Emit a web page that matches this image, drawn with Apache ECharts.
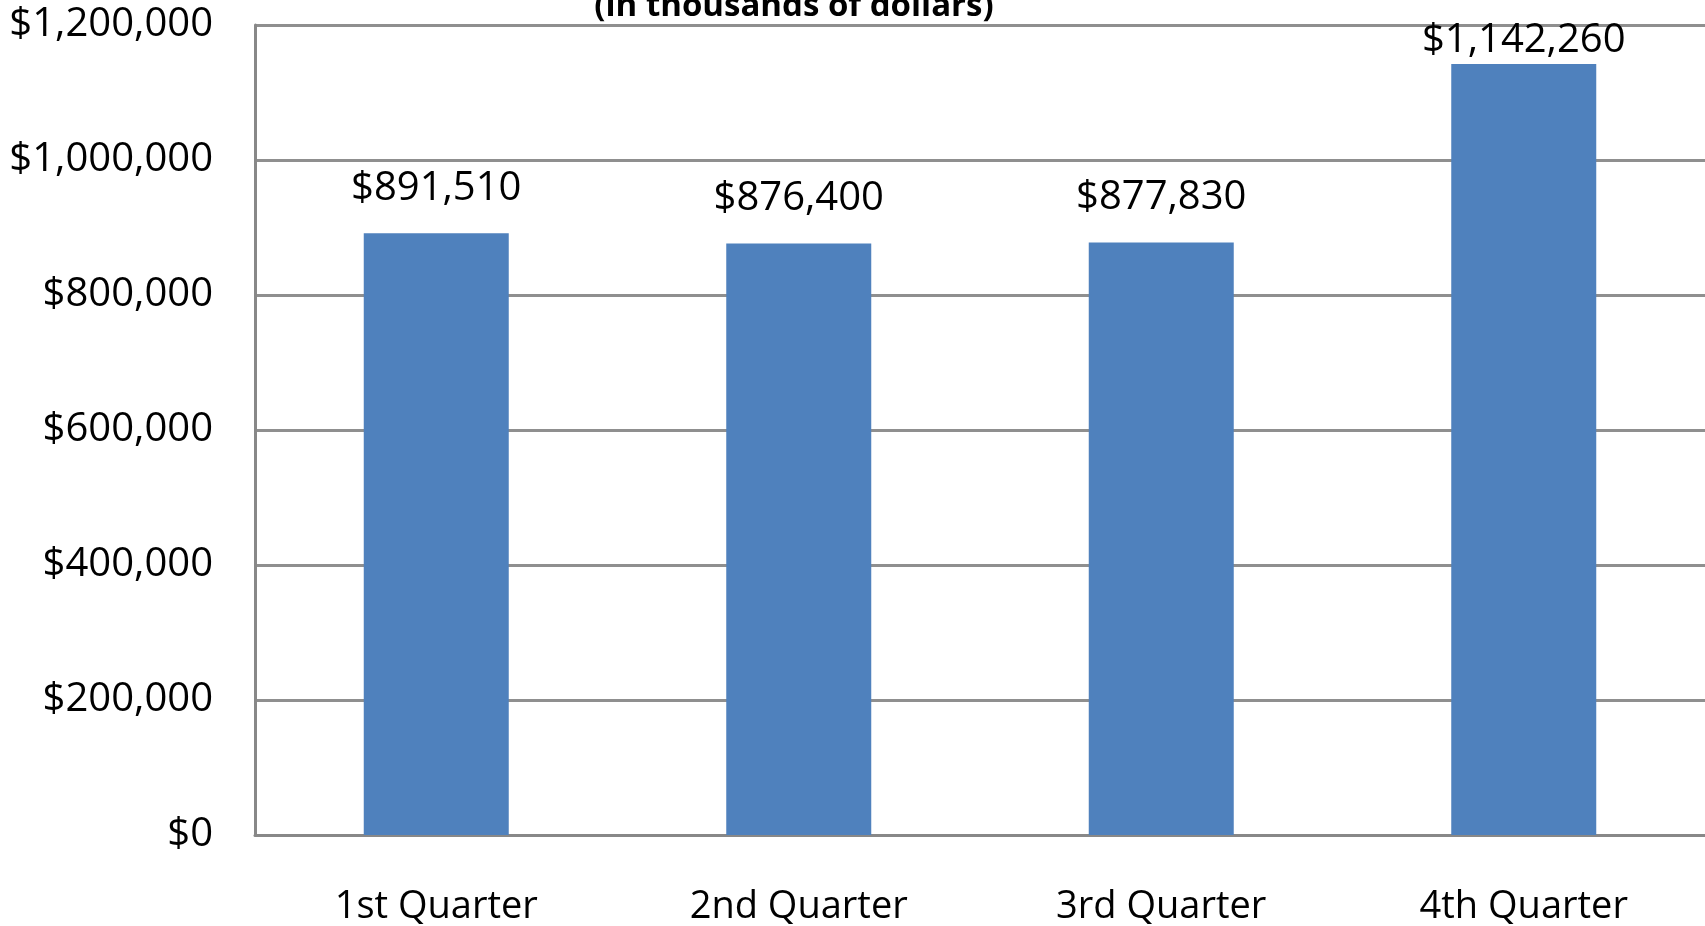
<!DOCTYPE html>
<html>
<head>
<meta charset="utf-8">
<script src="https://cdn.jsdelivr.net/npm/echarts@6/dist/echarts.min.js"></script>
<style>
html,body{margin:0;padding:0;background:#fff;}
#chart{width:1705px;height:926px;}
</style>
</head>
<body>
<div id="chart"></div>
<script>
const titleText = '(in thousands of dollars)';
const categories = ['1st Quarter', '2nd Quarter', '3rd Quarter', '4th Quarter'];
const salesValues = [891510, 876400, 877830, 1142260];
const yMin = 0, yMax = 1200000, yInterval = 200000;

function money(v) {
  return '$' + Number(v).toLocaleString('en-US');
}

const FONT = '"Open Sans", "Noto Sans", sans-serif';
// labels near the top edge sit closer to their bar (kept inside the plot)
const barData = salesValues.map(v => ({
  value: v,
  label: {distance: v > yMax * 0.9 ? 3 : 25}
}));

const chart = echarts.init(document.getElementById('chart'), null, {renderer: 'canvas'});
chart.setOption({
  animation: false,
  backgroundColor: '#ffffff',
  title: {
    text: titleText,
    left: 794,
    textAlign: 'center',
    top: -10,
    padding: 0,
    textStyle: {fontFamily: FONT, fontSize: 33, fontWeight: 'bold', color: '#000'}
  },
  grid: {left: 255, right: 0, top: 25, bottom: 91, containLabel: false},
  xAxis: {
    type: 'category',
    data: categories,
    axisLine: {show: true, lineStyle: {color: '#888888', width: 3}},
    axisTick: {show: false},
    axisLabel: {fontFamily: FONT, fontSize: 38, color: '#000', margin: 53}
  },
  yAxis: {
    type: 'value',
    min: yMin, max: yMax, interval: yInterval,
    axisLine: {show: true, lineStyle: {color: '#888888', width: 3}},
    axisTick: {show: false},
    splitLine: {show: true, lineStyle: {color: '#8f8f8f', width: 3}},
    axisLabel: {fontFamily: FONT, fontSize: 40, color: '#000', margin: 42, formatter: money}
  },
  series: [{
    type: 'bar',
    data: barData,
    barWidth: '40%',
    itemStyle: {color: '#4f81bd'},
    label: {
      show: true, position: 'top', distance: 25,
      fontFamily: FONT, fontSize: 40, color: '#000',
      formatter: p => money(p.value)
    }
  }]
});
</script>
</body>
</html>
